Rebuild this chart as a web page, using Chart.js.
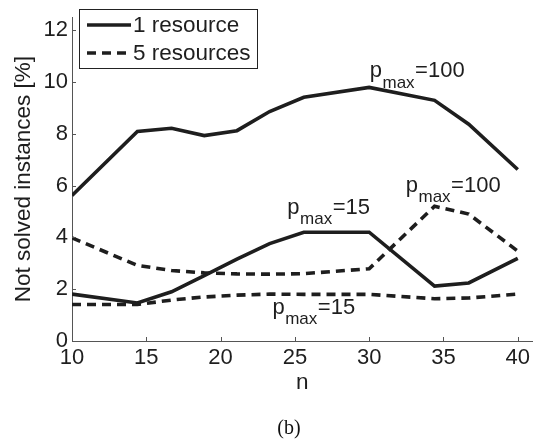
<!DOCTYPE html>
<html><head><meta charset="utf-8">
<script src="https://cdn.jsdelivr.net/npm/chart.js@4.4.0/dist/chart.umd.min.js"></script>
<style>html,body{margin:0;padding:0;background:#fff;}#wrap{width:534px;height:444px;position:relative;}</style>
</head><body><div id="wrap"><canvas id="c" width="534" height="444"></canvas></div>
<script>
// ---- data ----
const nValues = [10, 14.4, 16.7, 18.9, 21.1, 23.3, 25.6, 30, 34.4, 36.7, 40];
const res1P100 = [5.62, 8.09, 8.21, 7.93, 8.12, 8.86, 9.41, 9.79, 9.29, 8.37, 6.62];
const res1P15  = [1.81, 1.47, 1.90, 2.52, 3.16, 3.76, 4.20, 4.20, 2.12, 2.24, 3.19];
const res5P100 = [3.98, 2.92, 2.72, 2.63, 2.59, 2.58, 2.60, 2.79, 5.20, 4.90, 3.47];
const res5P15  = [1.41, 1.41, 1.58, 1.70, 1.77, 1.81, 1.80, 1.80, 1.63, 1.66, 1.81];
const seriesNames = ['1 resource', '5 resources'];
const xTicks = [10, 15, 20, 25, 30, 35, 40];
const yTicks = [0, 2, 4, 6, 8, 10, 12];
const xTitle = 'n';
const yTitle = 'Not solved instances [%]';
const caption = '(b)';
// annotation labels: [n, value, subscript, text]
const annotations = [
  [30.04, 10.19, 'max', '=100'],
  [32.46, 5.76, 'max', '=100'],
  [24.49, 4.91, 'max', '=15'],
  [23.49, 1.06, 'max', '=15']
];

const FONT = "'Liberation Sans', Arial, Helvetica, sans-serif";
const INK = '#1e1e1e';
const DASH = [9, 6];
const FS = 22.5;

function pts(ys){ return nValues.map((n,i)=>({x:n, y:ys[i]})); }

const decor = {
  id: 'decor',
  afterDraw(chart){
    const ctx = chart.ctx, xs = chart.scales.x, ys = chart.scales.y, ca = chart.chartArea;
    ctx.save();
    // inner tick marks
    ctx.strokeStyle = '#555'; ctx.lineWidth = 1;
    xTicks.forEach(t=>{ if(t===xs.min) return; const px = Math.round(xs.getPixelForValue(t))+0.5;
      ctx.beginPath(); ctx.moveTo(px, ca.bottom); ctx.lineTo(px, ca.bottom-4); ctx.stroke(); });
    yTicks.forEach(t=>{ if(t===ys.min) return; const py = Math.round(ys.getPixelForValue(t))+0.5;
      ctx.beginPath(); ctx.moveTo(ca.left, py); ctx.lineTo(ca.left+4, py); ctx.stroke(); });
    // legend
    const lx = 79.5, ly = 9.5, lw = 178, lh = 59;
    ctx.fillStyle = '#fff'; ctx.fillRect(lx, ly, lw, lh);
    ctx.strokeStyle = '#222'; ctx.lineWidth = 1; ctx.strokeRect(lx, ly, lw, lh);
    const styles = [[], DASH];
    seriesNames.forEach((name,i)=>{
      const y = 25 + i*28;
      ctx.strokeStyle = INK; ctx.lineWidth = 3.5; ctx.setLineDash(styles[i]);
      ctx.beginPath(); ctx.moveTo(87, y); ctx.lineTo(131, y); ctx.stroke();
      ctx.setLineDash([]);
      ctx.fillStyle = INK; ctx.font = FS + 'px ' + FONT; ctx.textBaseline = 'middle'; ctx.textAlign = 'left';
      ctx.fillText(name, 133, y+1);
    });
    // annotations
    ctx.fillStyle = INK; ctx.textBaseline = 'alphabetic'; ctx.textAlign = 'left';
    annotations.forEach(([n, v, sub, txt])=>{
      let x = xs.getPixelForValue(n); const b = ys.getPixelForValue(v);
      ctx.font = '22px ' + FONT; ctx.fillText('p', x, b); x += ctx.measureText('p').width + 0.5;
      ctx.font = '17px ' + FONT; ctx.fillText(sub, x, b + 10.5); x += ctx.measureText(sub).width + 0.5;
      ctx.font = '22px ' + FONT; ctx.fillText(txt, x, b);
    });
    // caption
    ctx.font = "20px 'Liberation Serif', 'Times New Roman', serif"; ctx.textAlign = 'center'; ctx.textBaseline = 'middle';
    ctx.fillStyle = '#111'; ctx.fillText(caption, 289, 429);
    ctx.restore();
  }
};

const common = { borderColor: INK, borderWidth: 3.6, pointRadius: 0, tension: 0, fill: false, borderCapStyle: 'butt' };

new Chart(document.getElementById('c'), {
  type: 'line',
  data: {
    datasets: [
      Object.assign({ label: seriesNames[0] + ' p100', data: pts(res1P100) }, common),
      Object.assign({ label: seriesNames[0] + ' p15', data: pts(res1P15) }, common),
      Object.assign({ label: seriesNames[1] + ' p100', data: pts(res5P100), borderDash: DASH }, common),
      Object.assign({ label: seriesNames[1] + ' p15', data: pts(res5P15), borderDash: DASH }, common)
    ]
  },
  options: {
    responsive: false, animation: false, devicePixelRatio: 1,
    layout: { padding: 0 },
    plugins: { legend: { display: false }, tooltip: { enabled: false } },
    scales: {
      x: {
        type: 'linear', min: 10, max: 41,
        afterBuildTicks: s => { s.ticks = xTicks.map(v=>({value:v})); },
        afterFit: s => { s.height = 103; },
        grid: { display: false, drawTicks: false },
        border: { display: true, color: '#555', width: 1 },
        ticks: { font: { size: 22, family: FONT }, color: INK, padding: 4, maxRotation: 0 },
        title: { display: true, text: xTitle, font: { size: FS, family: FONT }, color: INK, padding: { top: 0, bottom: 47.5 } }
      },
      y: {
        type: 'linear', min: 0, max: 12.5,
        afterBuildTicks: s => { s.ticks = yTicks.map(v=>({value:v})); },
        afterFit: s => { s.width = 72; },
        grid: { display: false, drawTicks: false },
        border: { display: true, color: '#555', width: 1 },
        ticks: { font: { size: 22, family: FONT }, color: INK, padding: 4 },
        title: { display: true, text: yTitle, font: { size: FS, family: FONT }, color: INK, padding: { top: 10.5, bottom: 0 } }
      }
    }
  },
  plugins: [decor]
});
</script></body></html>
